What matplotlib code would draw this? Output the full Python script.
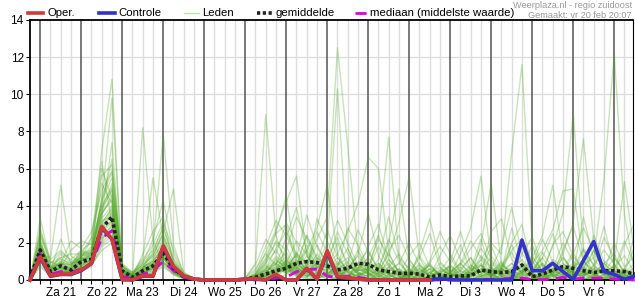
import matplotlib
matplotlib.use("Agg")
import matplotlib.pyplot as plt
from matplotlib.lines import Line2D
import numpy as np

plt.rcParams['font.family'] = ['Liberation Sans', 'DejaVu Sans']

# tijdstappen van 6 uur, start vr 20 feb 18:00
stap = 6
dagen = ["Za 21", "Zo 22", "Ma 23", "Di 24", "Wo 25", "Do 26", "Vr 27",
         "Za 28", "Zo 1", "Ma 2", "Di 3", "Wo 4", "Do 5", "Vr 6"]

# neerslag in mm per 6 uur
oper = [0, 1.25, .22, .32, .32, .54, .9, 2.88, 2.2, .02, .02, .22, .22, 1.85,
        .72, .22, .05, 0, 0, 0, 0, .05, .07, 0, .3, 0, 0, .63, .05, 1.58,
        .18, .12, .05, 0, 0, 0, 0, 0, 0, 0]

controle = [0, 1.2, .2, .3, .3, .5, .9, 2.8, 2.2, .02, 0, .2, .2, 1.8,
            .7, .2, .05, 0, 0, 0, 0, .05, .05, 0, .25, 0, 0, .6, .05, 1.5,
            .15, .1, .05, 0, 0, 0, 0, 0, 0, 0, .07, .02, 0, 0, 0, 0, 0, 0,
            2.15, .5, .5, .9, .45, .04, 1.05, 2.07, .45, .3, .04, .2]

gemiddelde = [.1, 1.62, .45, .76, .54, .99, 1.12, 2.8, 3.39, .49, .15, .5,
              .76, 1.44, .63, .18, .05, 0, 0, 0, 0, .04, .15, .32, .5, .63,
              .9, .99, .94, .76, .54, .63, .9, .85, .54, .45, .36, .36, .32,
              .15, .27, .18, .22, .22, .54, .45, .4, .45, .81, .18, .32, .54,
              .72, .63, .5, .4, .5, .5, .45, .32]

mediaan = [.05, 1.47, .3, .45, .4, .6, .9, 2.25, 2.66, .2, .05, .3, .5, 1.0,
           .5, .15, .02, 0, 0, 0, 0, 0, 0, .05, .1, .15, .45, .55, .6, .2,
           .15, .2, .15, .05, .02, 0, 0, 0, 0, 0, 0, 0, 0, 0, .02, .05, .05,
           .1, .1, .03, .02, .05, .15, .05, .1, .1, .1, .05, .02, 0]

leden_txt = [
    "0 1.6 .4 .8 .5  1.0 1.3 7.0 10.8  .3 0 .4 .6  1.2 .5 .1 0  0 0 0 0  0 .1 .4 .9  1.5 .6 .2 .1  .3 .8 1.2 .4  .2 0 .3 .6  .2 0 0 .1  .4 .9 .3 0  0 .2 .5 1.1  .3 0 0 .2  .8 .3 0 0  .2 .6 .1",
    "0 2.1 .6 .9 .7  1.3 1.8 4.2 9.8  .6 .2 .3 .9  1.8 .8 .2 0  0 0 0 0  0 0 .2 .5  .9 2.1 1.4 .3  .1 .4 .2 .9  1.6 .5 .1 0  0 .3 .8 .2  0 0 .4 1.3  .7 .2 0 0  .5 1.2 .4 .1  0 0 .3 .9  .4 0 0",
    "0 1.2 .3 .5 .4  .8 .9 2.5 3.1  .4 .3 8.2 2.1  .9 .4 .1 0  0 0 0 0  0 0 0 .1  .3 .8 2.4 1.1  .2 0 .1 .3  .6 1.8 .7 .2  0 0 .1 .5  1.2 .4 0 0  .2 .6 1.5 .3  0 .1 .9 .4  0 .3 1.6 .5  0 .1 .3",
    "0 1.8 .5 .9 .6  1.1 1.2 3.3 4.0  .5 .1 .6 1.8  7.85 1.9 .3 .1  0 0 0 0  0 .2 .6 1.3  .8 .3 0 .2  1.1 2.3 .6 0  0 .2 .7 1.4  .5 0 0 0  .3 .1 .6 2.2  .4 0 0 .3  1.0 .2 0 0  .6 1.7 .8 .2  0 0 .4",
    "0 1.4 1.2 5.1 1.3  .9 1.0 2.2 2.8  .2 0 .3 .5  1.0 .4 .1 0  0 0 0 0  0 .3 1.1 2.0  1.2 .4 .1 0  0 .2 .5 .8  .3 0 0 .1  .9 .3 0 0  0 .1 .2 .5  1.8 .6 .1 0  0 .4 1.1 .7  .2 0 .2 .9  1.4 .3 0",
    "0 1.0 .2 .6 .4  .7 .8 1.9 2.4  .3 .1 .2 .4  .8 .3 0 0  0 0 0 0  0 0 .1 .3  .6 1.4 .9 2.2  3.4 12.5 7.2 1.5  .4 0 0 .2  .6 .1 0 0  0 0 .3 .8  .2 0 0 .5  1.3 .4 0 0  0 .2 .7 .3  0 0 .1",
    "0 2.5 .7 1.0 .8  1.4 1.6 3.8 5.2  .8 .2 .5 .8  1.5 .6 .2 0  0 0 0 0  0 .1 .3 .7  .4 .9 1.6 .8  2.0 10.3 1.7 .4  0 .3 1.1 .5  0 0 0 0  .2 .5 .1 0  0 .7 1.9 .6  .1 0 .4 1.2  .5 0 0 .3  .8 .2 0",
    "0 1.5 .4 .7 .3  .6 .9 2.7 3.6  .6 .2 .6 1.1  2.2 .7 .2 0  0 0 0 0  0 0 .2 .6  1.1 .5 .2 .6  1.3 .4 .1 .5  .6 2.4 7.7 1.2  .1 0 0 .2  .5 .2 0 .1  .4 1.0 .3 0  0 .2 .6 .3  .1 .9 2.0 .6  .1 0 .2",
    "0 1.1 .3 .4 .6  1.2 1.0 2.0 2.6  .2 0 .5 .7  1.3 .5 .1 0  0 0 0 0  .1 .9 8.9 2.4  .7 .3 1.1 .4  0 .1 .6 1.3  .4 0 0 .1  .3 .9 .2 0  0 0 .5 .9  .3 0 .2 .8  .4 0 0 .6  1.5 .4 0 0  .3 .5 .1",
    "0 1.7 .5 1.4 .9  1.0 1.4 3.0 3.9  .7 .3 .4 .6  1.1 .6 .2 0  0 0 0 0  0 .2 .5 .3  .8 1.3 .5 .1  .2 .7 .3 0  0 .4 .9 .2  0 .1 .4 .2  0 0 .3 1.1  2.0 1.4 6.9 11.6  1.8 .3 0 0  .2 .7 .4 0  0 .5 .2",
    "0 1.3 .2 .3 .2  .5 .7 1.8 2.2  .1 0 .2 .4  .9 .3 .1 0  0 0 0 0  0 0 .3 1.2  .6 .2 .8 1.9  .7 .2 0 .3  .8 .3 0 0  .4 1.3 .5 0  0 .2 .1 0  .3 .6 .2 .4  1.2 .5 1.8 3.6  9.0 1.6 .3 0  .1 .4 .9",
    "0 1.9 .6 .6 .5  .8 1.1 3.5 4.6  .4 .1 .7 1.0  1.7 .9 .3 0  0 0 0 0  0 .1 .2 .4  1.8 .7 .3 0  .5 1.0 .4 .2  0 .1 .6 .3  .2 .6 .2 0  .8 .3 0 .2  .4 0 0 .3  .6 .2 .5 1.4  3.1 7.6 2.2 .4  0 0 .2",
    "0 .8 .3 .5 .3  .6 .8 2.4 2.9  .3 .2 .3 .5  1.2 .5 .1 0  0 0 0 0  0 0 .4 .9  .5 1.5 .7 .2  .4 0 .2 .7  .3 .5 1.4 .4  0 0 .2 .6  .3 .1 .2 .8  .2 0 .4 .7  .3 .1 .6 .2  0 .8 1.2 5.4  12.2 3.5 .4",
    "0 2.8 .8 1.1 .9  1.5 1.3 4.5 5.8  .5 .1 .4 .7  1.6 .4 .2 0  0 0 0 0  0 .2 .7 .4  .9 .3 .1 .8  1.4 .5 .2 .9  .7 2.2 1.3 3.1  5.6 1.2 .2 0  0 .3 .8 .4  .6 .2 0 0  .3 .9 .2 0  .4 .2 0 .1  .5 .3 0",
    "0 1.3 .4 .5 .4  .9 1.2 2.1 3.0  .5 .2 .3 .6  .9 .7 .2 0  0 0 0 0  0 .3 1.5 2.7  4.2 5.6 1.3 .5  .2 .6 1.0 .3  .1 0 .2 .5  .1 0 .3 .9  .4 0 0 .1  .2 .6 .3 .1  0 .3 .2 .5  .9 .4 .1 .6  .2 0 .3",
    "0 1.6 .5 .7 .6  1.1 .9 3.2 3.4  .3 0 .5 .9  1.4 .6 .1 0  0 0 0 0  0 0 .1 .5  .7 1.0 .4 .9  .6 .3 .8 .4  .2 .6 .3 0  .5 .2 .1 0  .3 1.4 2.8 5.6  1.0 .4 .2 0  0 .6 .3 .2  .7 1.1 .3 0  0 .2 .4",
    "0 1.2 .4 .4 .5  .7 1.0 2.6 3.2  .6 .1 .4 .6  1.5 .8 .2 0  0 0 0 0  .1 .3 .2 .8  .3 .6 1.9 .7  .3 .2 .5 1.6  .6 .2 0 .1  .3 .8 .4 .1  0 0 .2 1.9  5.2 .8 .3 .5  .2 0 .4 .9  .3 0 .2 .5  .7 .1 0",
    "0 1.4 .6 .8 .3  .8 1.1 2.3 2.7  .4 .2 .6 .8  1.0 .4 .1 0  0 0 0 0  0 .1 .4 .2  .6 .9 .5 .3  .8 .4 .2 0  .3 .7 .4 .2  0 .2 .6 .3  .1 0 .3 .6  .2 .5 .9 .4  1.2 2.4 5.1 1.3  .4 .2 .6 .3  .1 .5 .2",
    "0 1.9 .3 .6 .7  1.3 1.5 3.6 4.3  .3 .1 .5 1.0  1.8 .5 .2 0  0 0 0 0  0 .2 .6 1.0  .8 .4 .2 .7  1.1 .5 .3 .2  .6 .9 .3 0  0 .1 .2 .4  .7 .2 0 .3  .6 .3 .1 .4  .2 0 .3 .7  .4 .2 .8 1.6  .9 5.3 1.4",
    "0 1.1 .5 .9 .4  1.0 1.4 2.9 3.7  .5 .2 .7 .9  1.3 .6 .1 0  0 0 0 0  0 0 .3 .6  1.0 .5 1.6 2.8  5.1 1.4 .4 .2  .5 .3 .1 0  .2 .4 .8 .3  0 .2 .6 .2  .4 .1 0 .2  .5 .9 .3 0  .1 .4 .2 .6  .3 0 .1",
    "0 1.5 .6 1.0 .8  1.2 1.1 2.8 3.5  .4 .1 .3 .7  1.6 .7 .2 0  0 0 0 0  0 .1 .5 .9  .4 .7 .3 1.2  .8 1.4 2.6 4.1  6.6 6.0 1.5 .3  .1 0 .2 .5  .3 .7 .2 0  0 .3 .9 .4  .2 0 .3 .6  .4 .1 0 .2  .8 .3 .1",
    "0 2.2 .4 .7 .6  1.0 1.3 3.9 4.8  .6 .2 .4 .8  1.4 .5 .2 0  0 0 0 0  0 .4 1.2 2.6  4.5 .9 .4 .1  .3 .7 .2 .5  .9 .6 2.0 4.9  1.1 .3 0 .2  .6 .2 .4 .1  .3 .8 .5 .2  0 .1 .5 .3  .2 .6 .4 .1  0 .3 .7",
    "0 1.3 .7 .9 .8  1.4 1.2 3.1 3.8  .7 .4 1.2 5.5  2.3 .6 .2 0  0 0 0 0  0 0 .2 .4  .6 .3 .9 .5  .2 .5 .8 .3  .4 .1 .5 .9  .3 0 .1 .4  .8 .3 0 .2  .5 .2 .7 .4  .9 1.6 2.7 4.8  4.9 1.0 .3 .1  .2 .4 .1",
    "0 1.6 .5 .6 .5  .9 1.0 2.7 3.2  .5 .3 .8 1.3  2.6 4.9 .4 .1  0 0 0 0  0 .2 .8 .4  .7 1.1 .6 .3  .9 .4 .2 .6  .3 .2 .7 .4  0 .3 .9 .2  .1 .5 .3 .6  .3 0 .2 .5  .4 .2 .1 .6  .3 .7 .2 0  .4 .1 .2",
    "0 1.8 .4 .8 .6  1.1 1.6 4.1 6.5  .6 .2 .5 .9  1.5 .6 .2 0  0 0 0 0  0 0 .1 .3  .9 .4 1.3 .7  .5 .2 .6 .9  .4 .8 .3 .1  .2 .5 .3 0  .2 .6 1.2 .4  .7 .3 .1 0  .4 .8 .2 .3  .5 .2 .6 .3  .2 .4 .6",
    "0 1.4 .3 .5 .4  .7 1.2 3.4 7.4  .4 .1 .4 .7  1.2 .4 .1 0  0 0 0 0  0 .2 .5 .7  1.3 .6 .2 .4  .6 1.2 .5 .2  .1 .4 .2 .3  .6 .2 0 .1  .3 .2 .5 .8  .4 .9 .3 .1  0 .3 .5 .2  .7 .4 .1 .3  .5 .2 .3",
    "0 1.0 .3 .7 .5  1.0 1.5 6.0 4.4  .3 .1 .6 1.2  2.0 .7 .2 0  0 0 0 0  0 .1 .3 .6  .4 .8 .5 1.4  .7 .3 .1 .2  .5 .9 .4 0  .1 .3 .6 .2  .4 .1 .3 .5  .2 .6 .4 .2  .3 .1 .4 .7  .2 .5 .3 .1  .4 .6 .2",
    "0 2.0 .6 .9 .7  1.2 1.7 3.7 4.9  .5 .3 .9 1.4  2.5 .9 .3 .1  0 0 0 0  0 .3 .9 1.6  .7 .3 .8 .4  .3 .9 .4 .6  1.2 .4 .2 .1  .3 .7 .2 .4  .1 .3 .7 .2  .5 .3 .6 .8  .3 .1 .2 .5  .6 .3 .8 .4  .1 .2 .5",
    "0 3.3 .9 1.2 .8  1.6 1.4 4.3 5.5  .8 .3 .7 1.0  1.9 .8 .2 0  0 0 0 0  0 0 .2 .5  1.0 .7 .3 .2  .4 .6 .9 .3  .2 .5 .3 .6  .2 .1 .4 .7  .3 .2 .4 .3  .6 .2 .1 .4  .8 .3 .2 .1  .5 .3 .4 .9  .3 .1 .2",
    "0 .7 .2 .4 .3  .6 .8 1.6 2.0  .2 0 .2 .4  .7 .3 .1 0  0 0 0 0  0 .1 .4 1.1  .6 .2 .5 .9  .4 .3 .7 .5  .6 .2 .1 .4  .3 .6 .2 .1  .4 .9 .3 .2  .3 .1 .5 .3  .2 .4 .9 .5  .2 .4 .3 .6  .4 .2 .1",
    "0 1.7 .9 1.5 1.1  1.6 2.0 4.0 5.0  .9 .4 1.0 1.6  2.8 1.2 .3 .1  0 0 0 0  0 .5 1.8 3.2  2.4 1.2 3.5 1.8  .9 2.6 1.4 .6  1.8 3.0 1.1 .4  .2 1.5 3.3 1.0  .4 .9 2.1 1.2  .6 1.8 3.9 1.4  .8 2.2 1.0 .3  1.4 2.8 1.6 .7  .3 1.9 3.1",
    "0 1.3 .5 2.2 .9  1.1 1.5 3.6 4.4  .4 .2 1.4 2.6  3.4 .9 .2 0  0 0 0 0  .1 .8 2.2 1.4  3.1 2.0 .7 2.6  1.5 .6 2.8 1.9  .7 .3 1.6 2.4  1.1 .4 1.0 2.6  1.4 .5 1.2 .3  2.6 3.3 1.1 .5  1.9 .7 .3 1.6  2.9 1.0 .5 2.3  1.2 .4 1.8",
    "0 2.4 1.0 .7 1.6  2.1 1.9 5.2 4.1  .7 .3 .9 2.2  4.3 1.4 .3 0  0 0 0 0  0 .2 .9 2.1  1.6 3.4 2.2 .9  2.7 1.2 .5 1.4  3.6 1.3 .4 .9  2.0 .8 .2 1.3  2.4 1.1 .6 1.7  .9 .3 2.0 3.0  .6 1.2 2.5 .9  .4 1.6 .8 2.9  .7 1.3 .4",
    "0 1.9 .7 1.2 1.4  1.4 2.3 6.4 3.0  .5 .2 .6 1.5  2.9 1.0 .3 .1  0 0 0 0  0 .1 .6 1.7  2.6 1.4 .4 3.3  2.1 .8 1.7 .5  1.2 2.4 .8 .3  1.3 2.0 .7 .3  .8 1.9 .5 1.1  .4 .7 1.6 2.2  1.0 .4 1.9 2.6  1.3 .5 2.4 1.0  .6 2.1 .8",
    "0 1.2 .6 .9 2.1  1.7 2.6 4.8 5.9  .6 .3 1.1 1.9  3.1 1.6 .4 .1  0 0 0 0  .1 .6 1.4 .8  2.3 3.9 1.5 .6  1.4 3.2 2.0 .8  .5 1.1 3.4 1.2  .6 .2 .9 1.8  1.0 2.6 .8 .4  1.3 .6 .2 1.4  2.3 .8 .5 1.2  .4 3.4 1.1 .5  2.0 .7 1.3",
    "0 2.6 1.1 1.6 1.0  1.2 2.2 5.6 6.2  .8 .4 .8 1.3  2.4 1.1 .2 0  0 0 0 0  0 .3 1.0 2.5  3.0 .8 2.4 1.2  .6 2.0 .9 2.7  1.5 .6 2.2 1.0  .3 1.2 2.5 .7  .2 .8 1.7 2.5  1.1 .5 2.8 .9  .3 1.5 .6 2.0  1.0 .6 1.6 .4  1.2 .5 2.4",
]
leden = [np.array(s.split(), dtype=float) for s in leden_txt]
for k, m in enumerate(leden):
    if len(m) != 60:
        raise ValueError(f"lid {k} heeft {len(m)} waarden")

uren = np.arange(60) * stap

fig = plt.figure(figsize=(6.35, 3.0), dpi=100)
ax = fig.add_axes([30 / 635, 20 / 300, 603 / 635, 260 / 300])
ax.set_xlim(0, 353)
ax.set_ylim(0, 14)

# raster: licht elke 6 uur, donker om middernacht
for h in range(6, 353, 6):
    if (h - 6) % 24 == 0:
        ax.axvline(h, color='#555555', lw=1.1, zorder=1)
    else:
        ax.axvline(h, color='#dddddd', lw=1.0, zorder=0)
for y in range(2, 14, 2):
    ax.axhline(y, color='#dddddd', lw=1.0, zorder=0)

for m in leden:
    ax.plot(uren, m, color='#4aa31a', alpha=0.3, lw=1.0, zorder=2)

ax.plot(uren, mediaan, color='#dd00dd', lw=2, dashes=(4, 2.5), zorder=3, clip_on=False)
ax.plot(uren, gemiddelde, color='#222222', lw=2.6, dashes=(0.9, 0.7), zorder=4, clip_on=False)
ax.plot(uren[:len(controle)], controle, color='#3333cc', lw=2.6, zorder=5, clip_on=False)
ax.plot(uren[:len(oper)], oper, color='#d03a3a', lw=2.6, zorder=6, clip_on=False)

# assen
for s in ['left', 'top', 'bottom']:
    ax.spines[s].set_color('black')
    ax.spines[s].set_linewidth(1.3)
ax.spines['right'].set_linewidth(0.8)
ax.set_yticks(range(0, 15, 2))
ax.tick_params(axis='y', length=3, width=0.8, labelsize=8.5, pad=1.5)
ticks = list(range(6, 353, 6))
labels = []
for h in ticks:
    if (h - 18) % 24 == 0:
        labels.append(dagen[(h - 18) // 24])
    else:
        labels.append('')
ax.set_xticks(ticks)
ax.set_xticklabels(labels)
ax.tick_params(axis='x', length=3, width=0.8, labelsize=8.5, pad=2)

# legenda boven de grafiek
def fx(px):
    return px / 635


ly = 1 - 13 / 300
items = [
    (28, 43, 47, 'Oper.', dict(color='#d03a3a', lw=2.6)),
    (99, 115, 118, 'Controle', dict(color='#3333cc', lw=2.6)),
    (184, 199, 202, 'Leden', dict(color='#4aa31a', lw=1.0, alpha=0.35)),
    (257, 272, 276, 'gemiddelde', dict(color='#222222', lw=2.6, dashes=(0.9, 0.7))),
    (355, 367, 370, 'mediaan (middelste waarde)', dict(color='#dd00dd', lw=2, dashes=(4, 2.5))),
]
for x0, x1, xt, tekst, stijl in items:
    fig.add_artist(Line2D([fx(x0), fx(x1)], [ly, ly], transform=fig.transFigure, **stijl))
    fig.text(fx(xt), ly, tekst, fontsize=8.2, va='center', ha='left')

fig.text(fx(632), 1 - 5 / 300, 'Weerplaza.nl - regio zuidoost', fontsize=6.6,
         color='#999999', ha='right', va='center')
fig.text(fx(632), 1 - 15 / 300, 'Gemaakt: vr 20 feb 20:07', fontsize=6.6,
         color='#999999', ha='right', va='center')

fig.savefig('out.png', dpi=100)
